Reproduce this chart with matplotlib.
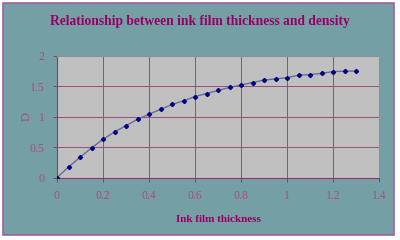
import matplotlib
matplotlib.use('Agg')
import matplotlib.pyplot as plt
from matplotlib.patches import Rectangle

# ink film thickness vs density
thickness = [0.0, 0.05, 0.1, 0.15, 0.2, 0.25, 0.3, 0.35, 0.4, 0.45, 0.5, 0.55, 0.6,
             0.65, 0.7, 0.75, 0.8, 0.85, 0.9, 0.95, 1.0, 1.05, 1.1, 1.15, 1.2, 1.25, 1.3]
density = [0.0, 0.175, 0.334, 0.487, 0.63, 0.75, 0.853, 0.957, 1.04, 1.12, 1.20, 1.26, 1.33,
           1.38, 1.43, 1.48, 1.52, 1.56, 1.60, 1.62, 1.64, 1.68, 1.69, 1.71, 1.74, 1.745, 1.75]
xticks = [0, 0.2, 0.4, 0.6, 0.8, 1, 1.2, 1.4]
yticks = [0, 0.5, 1, 1.5, 2]

W, H = 400, 240
teal = '#74A0A5'
purple = '#993366'
label_col = '#A84C84'

fig = plt.figure(figsize=(W/100, H/100), dpi=100)
fig.patch.set_facecolor('white')
fig.patches.append(Rectangle((3/W, 1 - 235/H), 391/W, 232/H, transform=fig.transFigure,
                             facecolor=teal, edgecolor='#A0609F', linewidth=1.2, zorder=-10))

ax = fig.add_axes([57/W, 1 - 177.7/H, 322/W, 122/H])
ax.set_facecolor('#C0C0C0')
ax.plot(thickness, density, color='#6A6A9A', linewidth=1.0, marker='D',
        markersize=2.1, markerfacecolor='#000080', markeredgecolor='#000080', zorder=3)

ax.set_xlim(0, 1.4)
ax.set_ylim(0, 2)
ax.set_xticks(xticks)
ax.set_yticks(yticks)
ax.set_xticklabels(['0', '0.2', '0.4', '0.6', '0.8', '1', '1.2', '1.4'])
ax.set_yticklabels(['0', '0.5', '1', '1.5', '2'])
ax.grid(True, color='#9C4C7A', linewidth=0.7)
ax.set_axisbelow(True)
for s in ['top', 'right']:
    ax.spines[s].set_color('#909090')
    ax.spines[s].set_linewidth(0.8)
for s in ['bottom', 'left']:
    ax.spines[s].set_color(purple)
    ax.spines[s].set_linewidth(0.8)
ax.tick_params(colors=purple, labelcolor=label_col, length=3, width=0.7, labelsize=8.5, pad=6)
for t in ax.get_xticklabels() + ax.get_yticklabels():
    t.set_family('Liberation Serif')

ax.set_xlabel('Ink film thickness', family='Liberation Serif', fontweight='bold',
              fontsize=8, color='#990066', labelpad=9)
ax.set_ylabel('D', family='Liberation Serif', fontsize=9, color=label_col, labelpad=-2)
fig.text(0.5, 1 - 21/H, 'Relationship between ink film thickness and density',
         family='Liberation Serif', fontweight='bold', fontsize=9.75, color='#990066',
         ha='center', va='center')

plt.savefig('out.png', dpi=100, facecolor=fig.get_facecolor())
